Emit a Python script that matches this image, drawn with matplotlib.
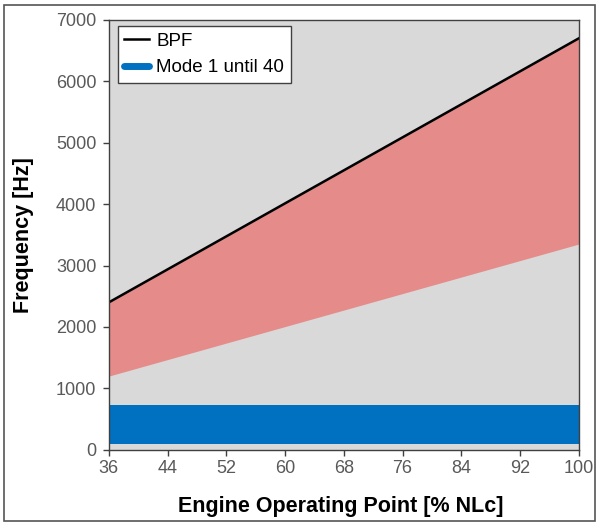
import matplotlib.pyplot as plt
from matplotlib.lines import Line2D
from matplotlib.patches import Rectangle

plt.rcParams['font.family'] = ['Liberation Sans', 'DejaVu Sans']

# data
op_point = [36, 100]
bpf = [2400, 6700]
bpf_lower = [1200, 3350]
mode1_low = [100, 100]
mode1_high = [730, 730]
x_ticks = [36, 44, 52, 60, 68, 76, 84, 92, 100]
y_ticks = [0, 1000, 2000, 3000, 4000, 5000, 6000, 7000]

fig = plt.figure(figsize=(5.98, 5.23), dpi=100)
ax = fig.add_axes([0.182, 0.140, 0.786, 0.822])
ax.set_facecolor('#D9D9D9')

ax.fill_between(op_point, bpf_lower, bpf, color='#E58C8A', linewidth=0)
ax.fill_between(op_point, mode1_low, mode1_high, color='#0070C0', linewidth=0)
ax.plot(op_point, bpf, color='black', linewidth=1.8)

ax.set_xlim(36, 100)
ax.set_ylim(0, 7000)
ax.set_xticks(x_ticks)
ax.set_yticks(y_ticks)
ax.tick_params(direction='out', length=4, width=1, colors='#404040',
               labelcolor='#595959', labelsize=13)
ax.tick_params(axis='y', pad=5)
for s in ax.spines.values():
    s.set_color('#404040')
    s.set_linewidth(1)

ax.set_xlabel('Engine Operating Point [% NLc]', fontsize=15.5, fontweight='bold')
ax.set_ylabel('Frequency [Hz]', fontsize=15.5, fontweight='bold')
ax.xaxis.set_label_coords(0.493, -0.108)
ax.yaxis.set_label_coords(-0.16, 0.5)

handles = [Line2D([], [], color='black', linewidth=1.8),
           Line2D([], [], color='#0070C0', linewidth=5, solid_capstyle='round')]
leg = ax.legend(handles, ['BPF', 'Mode 1 until 40'], loc='upper left',
                prop={'size': 13.5}, frameon=True, fancybox=False, handlelength=1.3,
                handletextpad=0.4, borderpad=0.35, labelspacing=0.5,
                borderaxespad=0, bbox_to_anchor=(0.019, 0.986))
leg.get_frame().set_edgecolor('#404040')
leg.get_frame().set_linewidth(1)
leg.get_frame().set_facecolor('white')
leg.get_frame().set_alpha(1)

fig.patches.append(Rectangle((0.007, 0.004), 0.988, 0.986, transform=fig.transFigure,
                             fill=False, edgecolor='#555555', linewidth=1.2))

fig.savefig('out.png', dpi=100)
